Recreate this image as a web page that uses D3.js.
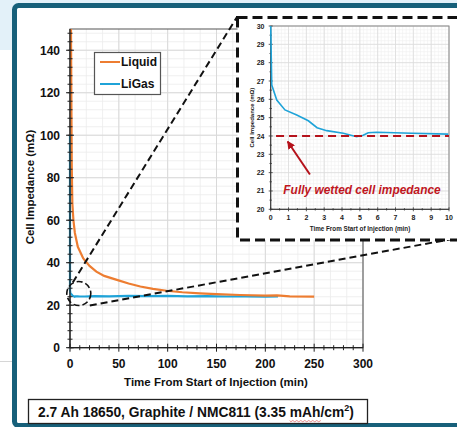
<!DOCTYPE html>
<html><head><meta charset="utf-8">
<script src="https://cdn.jsdelivr.net/npm/d3@7"></script>
<style>body{margin:0;background:#fff}svg{display:block}text{font-family:Arial,'Liberation Sans',sans-serif;font-weight:bold}</style>
</head><body><svg id="c" width="457" height="427"></svg>
<script>
// ---- data ----
const liquidTime = [1.0,1.4,1.8,2.4,3.5,5,8,13.6,20,27,35,48,60,72,85,99,115,133,150,174,200,212,225,250];
const liquidImp  = [150,115,85,68,60,54,47.5,42,38.5,35.8,33.8,31.9,30.2,28.8,27.7,26.8,26.1,25.6,25.2,24.8,24.5,24.6,24.2,24.0];
const ligasTime = [0,0,0.06,0.34,0.8,1.46,2.11,2.6,3.14,4.07,4.82,5.19,5.47,5.95,7.9,9.96,15,25,40,60,80,100,120,140,160,180,200,213];
const ligasImp  = [100,30,26.78,25.96,25.42,25.14,24.83,24.45,24.29,24.15,23.96,24.04,24.18,24.2,24.15,24.1,24.1,24.3,24.2,24.4,24.3,24.4,24.2,24.3,24.1,24.2,24.0,24.1];
const seriesNames = ["Liquid","LiGas"];
const seriesColors = ["#ed7d31","#1fa3d8"];
const wettedImp = 24;
const xTicks = [0,50,100,150,200,250,300];
const yTicks = [0,20,40,60,80,100,120,140];
const insetXTicks = [0,1,2,3,4,5,6,7,8,9,10];
const insetYTicks = [20,21,22,23,24,25,26,27,28,29,30];
const caption = "2.7 Ah 18650, Graphite / NMC811 (3.35 mAh/cm";
const zoomCenter = [9, 25.5];

const svg = d3.select("#c");

// ---- page background & frame ----
svg.append("rect").attr("x",0).attr("y",0).attr("width",457).attr("height",50).attr("fill","#e3f1f9");
svg.append("line").attr("x1",0).attr("x2",14).attr("y1",361.5).attr("y2",361.5).attr("stroke","#d6d6d6").attr("stroke-width",1);
svg.append("rect").attr("x",14.5).attr("y",5.5).attr("width",470).attr("height",420).attr("rx",4)
  .attr("fill","#fff").attr("stroke","#17607a").attr("stroke-width",5);

// ---- main chart ----
const x = d3.scaleLinear([0,300],[70,363]);
const y = d3.scaleLinear([0,150],[347.7,29]);
const g = svg.append("g");

// minor grid
d3.range(0,300.01,50/3).forEach(v=>g.append("line").attr("x1",x(v)).attr("x2",x(v)).attr("y1",y(0)).attr("y2",y(150)).attr("stroke","#ececec").attr("stroke-width",0.8));
d3.range(0,150.01,4).forEach(v=>g.append("line").attr("y1",y(v)).attr("y2",y(v)).attr("x1",x(0)).attr("x2",x(300)).attr("stroke","#ececec").attr("stroke-width",0.8));
// major grid
xTicks.forEach(v=>g.append("line").attr("x1",x(v)).attr("x2",x(v)).attr("y1",y(0)).attr("y2",y(150)).attr("stroke","#d9d9d9").attr("stroke-width",1));
yTicks.forEach(v=>g.append("line").attr("y1",y(v)).attr("y2",y(v)).attr("x1",x(0)).attr("x2",x(300)).attr("stroke","#d9d9d9").attr("stroke-width",1));
// border
g.append("rect").attr("x",x(0)).attr("y",y(150)).attr("width",x(300)-x(0)).attr("height",y(0)-y(150)).attr("fill","none").attr("stroke","#555").attr("stroke-width",1);

// clip
svg.append("clipPath").attr("id","mainclip").append("rect").attr("x",x(0)-2).attr("y",y(150)).attr("width",x(300)-x(0)+2).attr("height",y(0)-y(150));
const line = d3.line().x(d=>x(d[0])).y(d=>y(d[1]));
const liquid = liquidTime.map((t,i)=>[t,liquidImp[i]]);
const ligas = ligasTime.map((t,i)=>[t,ligasImp[i]]);
g.append("path").attr("d",line(ligas)).attr("fill","none").attr("stroke",seriesColors[1]).attr("stroke-width",2.2).attr("clip-path","url(#mainclip)");
g.append("path").attr("d",line(liquid)).attr("fill","none").attr("stroke",seriesColors[0]).attr("stroke-width",2.2).attr("clip-path","url(#mainclip)");

// axes
g.append("line").attr("x1",x(0)).attr("x2",x(300)).attr("y1",y(0)).attr("y2",y(0)).attr("stroke","#222").attr("stroke-width",1.3);
g.append("line").attr("x1",x(0)).attr("x2",x(0)).attr("y1",y(0)).attr("y2",y(150)).attr("stroke","#222").attr("stroke-width",1.3);
d3.range(0,300.01,10).forEach(v=>{const maj=v%50===0;g.append("line").attr("x1",x(v)).attr("x2",x(v)).attr("y1",y(0)-(maj?4:2.5)).attr("y2",y(0)+(maj?4:2.5)).attr("stroke","#222").attr("stroke-width",1);});
d3.range(0,150.01,4).forEach(v=>g.append("line").attr("x1",x(0)-2.5).attr("x2",x(0)+2.5).attr("y1",y(v)).attr("y2",y(v)).attr("stroke","#222").attr("stroke-width",1));
yTicks.forEach(v=>g.append("line").attr("x1",x(0)-4).attr("x2",x(0)+4).attr("y1",y(v)).attr("y2",y(v)).attr("stroke","#222").attr("stroke-width",1));
xTicks.forEach(v=>g.append("text").attr("x",x(v)).attr("y",368).attr("text-anchor","middle").attr("font-size",12).attr("fill","#111").text(v));
yTicks.forEach(v=>g.append("text").attr("x",60).attr("y",y(v)).attr("dy","0.36em").attr("text-anchor","end").attr("font-size",12).attr("fill","#111").text(v));
g.append("text").attr("x",216).attr("y",386).attr("text-anchor","middle").attr("font-size",11.5).attr("fill","#111").text("Time From Start of Injection (min)");
g.append("text").attr("transform","translate(34,187) rotate(-90)").attr("text-anchor","middle").attr("font-size",11.5).attr("fill","#111").text("Cell Impedance (mΩ)");

// legend
const lg = g.append("g");
lg.append("rect").attr("x",94.5).attr("y",52.5).attr("width",66).attr("height",42).attr("fill","#fff").attr("stroke","#555").attr("stroke-width",1.2);
seriesNames.forEach((n,i)=>{
  const yy = 62 + i*22;
  lg.append("line").attr("x1",100).attr("x2",120).attr("y1",yy).attr("y2",yy).attr("stroke",seriesColors[i]).attr("stroke-width",2);
  lg.append("text").attr("x",121).attr("y",yy).attr("dy","0.36em").attr("font-size",12).attr("fill","#111").text(n);
});

// zoom circle and connector lines
const cx = x(zoomCenter[0]), cy = y(zoomCenter[1]);
g.append("circle").attr("cx",cx).attr("cy",cy).attr("r",12).attr("fill","none").attr("stroke","#111").attr("stroke-width",1.6).attr("stroke-dasharray","6,3");
g.append("line").attr("x1",cx-6).attr("y1",cy-11).attr("x2",237).attr("y2",17).attr("stroke","#111").attr("stroke-width",2).attr("stroke-dasharray","7,4");
g.append("line").attr("x1",cx+11).attr("y1",cy+12).attr("x2",460).attr("y2",237.5).attr("stroke","#111").attr("stroke-width",2).attr("stroke-dasharray","7,4");

// ---- inset ----
const ig = svg.append("g");
ig.append("rect").attr("x",237.5).attr("y",17.5).attr("width",240).attr("height",222.5).attr("fill","#fff").attr("stroke","#111").attr("stroke-width",3).attr("stroke-dasharray","10,5");
const xi = d3.scaleLinear([0,10],[270.7,449]);
const yi = d3.scaleLinear([20,30],[209.3,26]);
d3.range(0,10.001,0.2).forEach(v=>ig.append("line").attr("x1",xi(v)).attr("x2",xi(v)).attr("y1",yi(20)).attr("y2",yi(30)).attr("stroke","#f0f0f0").attr("stroke-width",0.6));
d3.range(20,30.001,0.2).forEach(v=>ig.append("line").attr("y1",yi(v)).attr("y2",yi(v)).attr("x1",xi(0)).attr("x2",xi(10)).attr("stroke","#f0f0f0").attr("stroke-width",0.6));
insetXTicks.forEach(v=>ig.append("line").attr("x1",xi(v)).attr("x2",xi(v)).attr("y1",yi(20)).attr("y2",yi(30)).attr("stroke","#dcdcdc").attr("stroke-width",0.8));
insetYTicks.forEach(v=>ig.append("line").attr("y1",yi(v)).attr("y2",yi(v)).attr("x1",xi(0)).attr("x2",xi(10)).attr("stroke","#dcdcdc").attr("stroke-width",0.8));
ig.append("rect").attr("x",xi(0)).attr("y",yi(30)).attr("width",xi(10)-xi(0)).attr("height",yi(20)-yi(30)).attr("fill","none").attr("stroke","#888").attr("stroke-width",1);
ig.append("line").attr("x1",xi(0)).attr("x2",xi(10)).attr("y1",yi(20)).attr("y2",yi(20)).attr("stroke","#333").attr("stroke-width",1);
ig.append("line").attr("x1",xi(0)).attr("x2",xi(0)).attr("y1",yi(20)).attr("y2",yi(30)).attr("stroke","#333").attr("stroke-width",1);
d3.range(0,10.001,0.5).forEach(v=>ig.append("line").attr("x1",xi(v)).attr("x2",xi(v)).attr("y1",yi(20)-(v%1===0?2:1.2)).attr("y2",yi(20)+(v%1===0?2:1.2)).attr("stroke","#333").attr("stroke-width",0.8));
d3.range(20,30.001,0.5).forEach(v=>ig.append("line").attr("x1",xi(0)-(v%1===0?2:1.2)).attr("x2",xi(0)+(v%1===0?2:1.2)).attr("y1",yi(v)).attr("y2",yi(v)).attr("stroke","#333").attr("stroke-width",0.8));
insetXTicks.forEach(v=>ig.append("text").attr("x",xi(v)).attr("y",220).attr("text-anchor","middle").attr("font-size",7).attr("fill","#222").text(v));
insetYTicks.forEach(v=>ig.append("text").attr("x",264.5).attr("y",yi(v)).attr("dy","0.36em").attr("text-anchor","end").attr("font-size",7).attr("fill","#222").text(v));
ig.append("text").attr("x",360).attr("y",230.5).attr("text-anchor","middle").attr("font-size",6.3).attr("fill","#222").text("Time From Start of Injection (min)");
ig.append("text").attr("transform","translate(254,117.6) rotate(-90)").attr("text-anchor","middle").attr("font-size",6).attr("fill","#222").text("Cell Impedance (mΩ)");

svg.append("clipPath").attr("id","insclip").append("rect").attr("x",xi(0)-2).attr("y",yi(30)).attr("width",xi(10)-xi(0)+2).attr("height",yi(20)-yi(30));
const iline = d3.line().x(d=>xi(d[0])).y(d=>yi(d[1]));
ig.append("path").attr("d",iline(ligas.filter(d=>d[0]<=10.5))).attr("fill","none").attr("stroke",seriesColors[1]).attr("stroke-width",1.6).attr("clip-path","url(#insclip)");
ig.append("line").attr("x1",xi(0.3)).attr("x2",xi(10)).attr("y1",yi(wettedImp)).attr("y2",yi(wettedImp)).attr("stroke","#b5121b").attr("stroke-width",2.2).attr("stroke-dasharray","8,5");

// arrow + label
const defs = svg.append("defs");
defs.append("marker").attr("id","ah").attr("viewBox","0 0 10 10").attr("refX",9).attr("refY",5).attr("markerWidth",4).attr("markerHeight",4).attr("orient","auto")
  .append("path").attr("d","M0,0L10,5L0,10z").attr("fill","#b5121b");
ig.append("line").attr("x1",xi(2.2)).attr("y1",yi(21.9)).attr("x2",xi(0.95)).attr("y2",yi(23.7)).attr("stroke","#b5121b").attr("stroke-width",2).attr("marker-end","url(#ah)");
ig.append("text").attr("x",362).attr("y",194).attr("text-anchor","middle").attr("font-size",11.9).attr("font-style","italic").attr("fill","#c0161e").text("Fully wetted cell impedance");

// ---- caption ----
svg.append("rect").attr("x",28.5).attr("y",399.5).attr("width",339).attr("height",24).attr("fill","#fff").attr("stroke","#222").attr("stroke-width",1.3);
const ct = svg.append("text").attr("x",38).attr("y",417).attr("font-size",13.8).attr("fill","#111");
ct.append("tspan").text(caption);
ct.append("tspan").attr("font-size",9).attr("dy",-6).text("2");
ct.append("tspan").attr("dy",6).text(")");
try{
  const node = ct.node();
  const idx = caption.indexOf("mAh");
  const sx = 38 + node.getSubStringLength(0, idx);
  const w = node.getSubStringLength(idx, 3);
  let p = "M"+sx+",420.5";
  for(let i=0;i<w;i+=2){p+="L"+(sx+i+1)+","+(i/2%2===0?421.8:420.5);}
  svg.append("path").attr("d",p).attr("fill","none").attr("stroke","#d04040").attr("stroke-width",0.6);
}catch(e){}
</script></body></html>
